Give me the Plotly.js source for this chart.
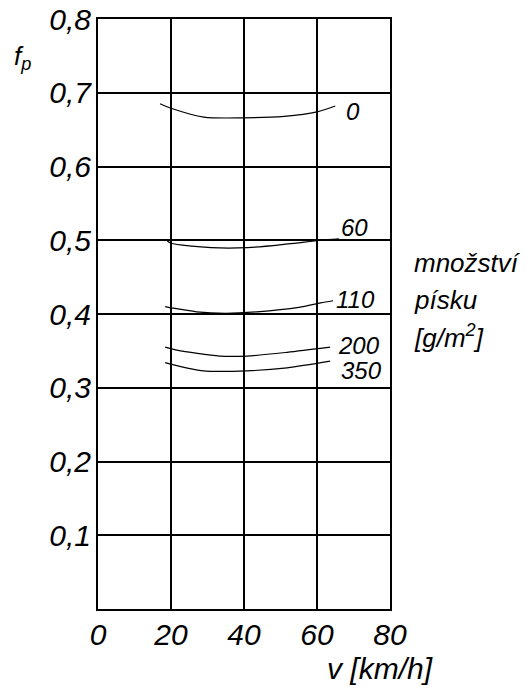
<!DOCTYPE html>
<html><head><meta charset="utf-8">
<script src="https://cdn.plot.ly/plotly-3.0.1.min.js"></script>
<style>html,body{margin:0;padding:0;background:#fff}#c{width:531px;height:688px}</style>
</head><body><div id="c"></div>
<script>
// sand amount curves: speed v [km/h] and friction coefficient f_p
const sandLabels = ["0", "60", "110", "200", "350"];
const v0   = [17, 20, 29, 40, 51, 60, 65];
const f0   = [0.685, 0.679, 0.667, 0.666, 0.668, 0.674, 0.682];
const v60  = [19, 20, 31, 41, 52, 61, 66];
const f60  = [0.499, 0.496, 0.490, 0.490, 0.495, 0.500, 0.502];
const v110 = [18.4, 20.5, 27, 35, 43.5, 55, 61, 64.4];
const f110 = [0.410, 0.408, 0.403, 0.401, 0.403, 0.409, 0.415, 0.418];
const v200 = [18.4, 21.6, 33.4, 40.8, 51.8, 63.6];
const f200 = [0.355, 0.351, 0.343, 0.343, 0.348, 0.355];
const v350 = [18.4, 21.6, 28.8, 40.8, 51.8, 63.6];
const f350 = [0.334, 0.330, 0.323, 0.323, 0.327, 0.336];
// label anchor points (left edge of label text)
const labelV = [67.7, 66.3, 64.9, 65.5, 66.3];
const labelF = [0.674, 0.517, 0.419, 0.357, 0.323];

const xTickVals = [0, 20, 40, 60, 80];
const xTickText = ["0", "20", "40", "60", "80"];
const yTickVals = [0.1, 0.2, 0.3, 0.4, 0.5, 0.6, 0.7, 0.8];
const yTickText = ["0,1", "0,2", "0,3", "0,4", "0,5", "0,6", "0,7", "0,8"];
const sideText = ["množství", "písku", "[g/m<sup>2</sup>]"];

const FONT = "Liberation Sans, Arial, sans-serif";
const series = [[v0,f0],[v60,f60],[v110,f110],[v200,f200],[v350,f350]];
const traces = series.map((s, i) => ({
  x: s[0], y: s[1], type: "scatter", mode: "lines",
  line: {color: "#000", width: 1.2, shape: "spline", smoothing: 0.8},
  name: sandLabels[i], hoverinfo: "skip"
}));

const ann = sandLabels.map((t, i) => ({
  x: labelV[i], y: labelF[i], xref: "x", yref: "y", text: t, showarrow: false,
  xanchor: "left", yanchor: "middle", borderpad: 0,
  font: {family: FONT, size: 24, style: "italic", color: "#000"}
}));
const sideY = [263, 300, 337];
sideText.forEach((t, i) => ann.push({
  x: (413 - 98) / 292, y: (609 - sideY[i]) / 590, xref: "paper", yref: "paper",
  text: t, showarrow: false, xanchor: "left", yanchor: "middle", borderpad: 0,
  font: {family: FONT, size: 26, style: "italic", color: "#000"}
}));
ann.push({x: (380 - 98) / 292, y: (609 - 668) / 590, xref: "paper", yref: "paper",
  text: "v [km/h]", showarrow: false, xanchor: "center", yanchor: "middle", borderpad: 0,
  font: {family: FONT, size: 30, style: "italic", color: "#000"}});
ann.push({x: (22 - 98) / 292, y: (609 - 58) / 590, xref: "paper", yref: "paper",
  text: "f<sub>p</sub>", showarrow: false, xanchor: "center", yanchor: "middle",
  font: {family: FONT, size: 26, style: "italic", color: "#000"}});

const axisCommon = {
  showgrid: true, gridcolor: "#000", gridwidth: 2, zeroline: false,
  showline: true, linecolor: "#000", linewidth: 2, mirror: true,
  ticks: "", tickfont: {family: FONT, size: 30, style: "italic", color: "#000"}
};
const layout = {
  width: 531, height: 688, showlegend: false,
  paper_bgcolor: "#fff", plot_bgcolor: "#fff",
  margin: {l: 98, r: 141, t: 19, b: 79},
  xaxis: Object.assign({}, axisCommon, {range: [0, 80], tickmode: "array",
    tickvals: xTickVals, ticktext: xTickText, ticklabelstandoff: -2}),
  yaxis: Object.assign({}, axisCommon, {range: [0, 0.8], tickmode: "array",
    tickvals: yTickVals, ticktext: yTickText, ticklabelstandoff: -1}),
  annotations: ann
};
Plotly.newPlot("c", traces, layout, {staticPlot: true, displayModeBar: false});
</script></body></html>
